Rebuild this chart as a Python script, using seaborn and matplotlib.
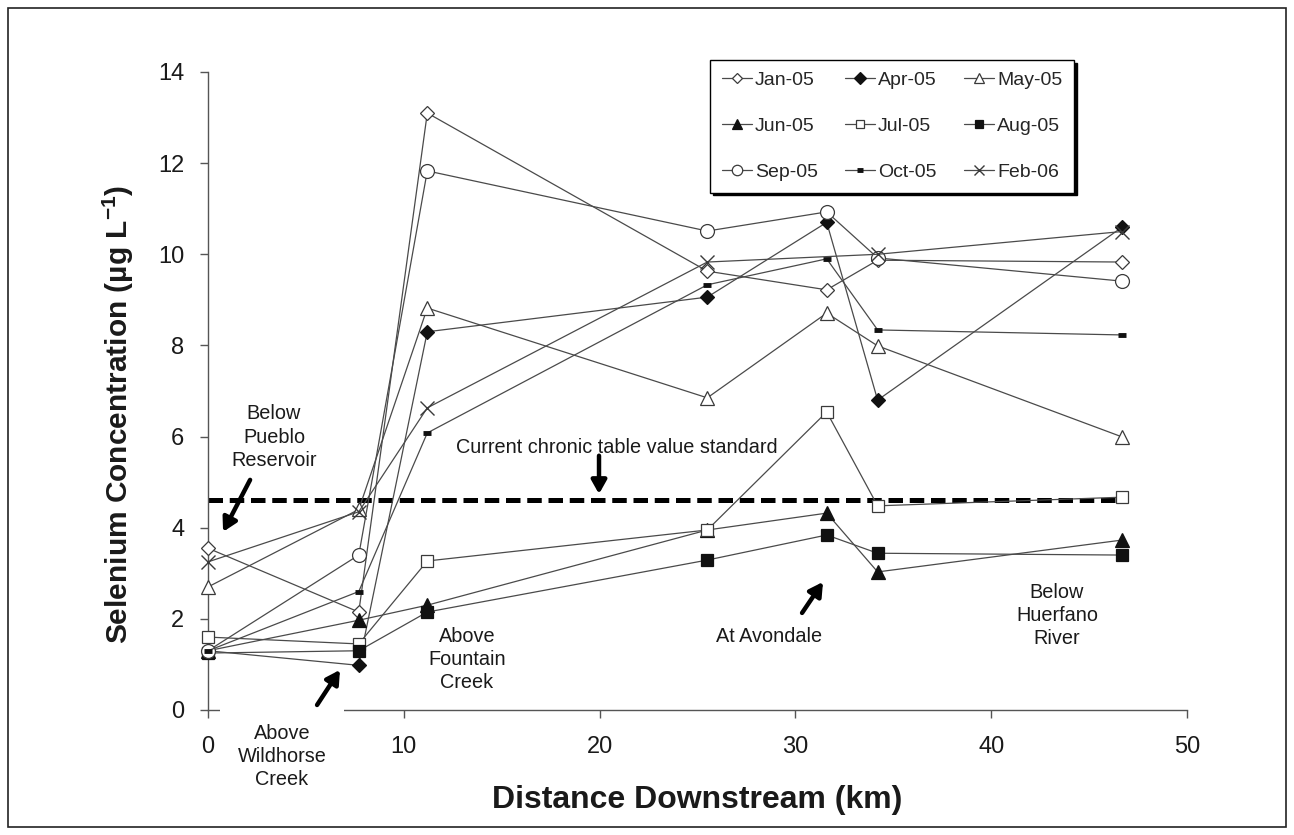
import numpy as np
import pandas as pd
import matplotlib
matplotlib.use("Agg")
import matplotlib.pyplot as plt
from matplotlib.patches import Rectangle
import seaborn as sns

# ---------------- data ----------------
distance_km = [0, 7.7, 11.2, 25.5, 31.6, 34.2, 46.7]
jan05 = [3.55, 2.15, 13.1, 9.63, 9.22, 9.87, 9.83]
apr05 = [1.30, 0.98, 8.30, 9.06, 10.7, 6.80, 10.6]
may05 = [2.70, 4.40, 8.82, 6.85, 8.71, 7.99, 5.99]
jun05 = [1.30, 1.97, 2.30, 3.95, 4.32, 3.03, 3.73]
jul05 = [1.60, 1.45, 3.27, 3.95, 6.54, 4.48, 4.67]
aug05 = [1.25, 1.30, 2.15, 3.29, 3.84, 3.44, 3.40]
sep05 = [1.30, 3.40, 11.83, 10.51, 10.93, 9.92, 9.41]
oct05 = [1.30, 2.60, 6.08, 9.33, 9.90, 8.34, 8.23]
feb06 = [3.25, 4.35, 6.63, 9.83, np.nan, 10.0, 10.5]

series_names = ["Jan-05", "Apr-05", "May-05", "Jun-05", "Jul-05",
                "Aug-05", "Sep-05", "Oct-05", "Feb-06"]
series_values = [jan05, apr05, may05, jun05, jul05, aug05, sep05, oct05, feb06]

standard_value = 4.6
standard_x = [0, 46.7]

x_ticks = [0, 10, 20, 30, 40, 50]
y_ticks = [0, 2, 4, 6, 8, 10, 12, 14]

# ---------------- style ----------------
sns.set_style("ticks")
plt.rcParams["font.family"] = ["Liberation Sans", "DejaVu Sans"]
plt.rcParams["mathtext.fontset"] = "custom"
plt.rcParams["mathtext.rm"] = "Liberation Sans"
plt.rcParams["mathtext.bf"] = "Liberation Sans:bold"

LINE = "#4a4a4a"
EDGE = "#3a3a3a"
FILL = "#111111"

marker_styles = {
    "Jan-05": dict(marker="D", markersize=7, markerfacecolor="white", markeredgecolor=EDGE, markeredgewidth=0.9),
    "Apr-05": dict(marker="D", markersize=7.5, markerfacecolor=FILL, markeredgecolor=FILL, markeredgewidth=0.9),
    "May-05": dict(marker="^", markersize=9.5, markerfacecolor="white", markeredgecolor=EDGE, markeredgewidth=0.9),
    "Jun-05": dict(marker="^", markersize=9.5, markerfacecolor=FILL, markeredgecolor=FILL, markeredgewidth=0.9),
    "Jul-05": dict(marker="s", markersize=8, markerfacecolor="white", markeredgecolor=EDGE, markeredgewidth=0.9),
    "Aug-05": dict(marker="s", markersize=8, markerfacecolor=FILL, markeredgecolor=FILL, markeredgewidth=0.9),
    "Sep-05": dict(marker="o", markersize=10, markerfacecolor="white", markeredgecolor=EDGE, markeredgewidth=0.9),
    "Oct-05": dict(marker="_", markersize=6, markerfacecolor=FILL, markeredgecolor=FILL, markeredgewidth=3.5),
    "Feb-06": dict(marker="x", markersize=10, markerfacecolor=EDGE, markeredgecolor=EDGE, markeredgewidth=1.0),
}

fig = plt.figure(figsize=(12.94, 8.35), dpi=100)
ax = fig.add_axes([208 / 1294, 1 - 710 / 835, (1187 - 208) / 1294, (710 - 72) / 835])

# standard line
ax.plot(standard_x, [standard_value, standard_value], color="black", lw=3.6,
        linestyle=(0, (2.9, 1.35)), dash_capstyle="butt", zorder=2, clip_on=False)

for name, vals in zip(series_names, series_values):
    df = pd.DataFrame({"x": distance_km, "y": vals}).dropna()
    sns.lineplot(data=df, x="x", y="y", ax=ax, color=LINE, linewidth=0.9,
                 label=name, estimator=None, sort=False, clip_on=False,
                 zorder=3, **marker_styles[name])

ax.set_xlim(0, 50)
ax.set_ylim(0, 14)
ax.set_xticks(x_ticks)
ax.set_yticks(y_ticks)
sns.despine(ax=ax)
for s in ["left", "bottom"]:
    ax.spines[s].set_color("#555555")
    ax.spines[s].set_linewidth(1.0)
ax.tick_params(axis="both", direction="out", length=6, width=1.0, color="#555555",
               labelsize=17, labelcolor="#1a1a1a")
ax.tick_params(axis="y", pad=11)
ax.tick_params(axis="x", pad=13)

ax.set_xlabel("Distance Downstream (km)", fontsize=23, fontweight="bold", color="#1a1a1a", va="center")
ax.xaxis.set_label_coords(0.4995, -(800 - 710) / 638)
ax.set_ylabel(r"Selenium Concentration (µg L$^{\mathbf{-1}}$)", fontsize=21.5,
              fontweight="bold", color="#1a1a1a", va="center")
ax.yaxis.set_label_coords((118 - 208) / 979, (710 - 414) / 638)

# legend (row-major order in reference -> reorder for column-major fill)
handles, labels = ax.get_legend_handles_labels()
order = [0, 3, 6, 1, 4, 7, 2, 5, 8]
leg = ax.legend([handles[i] for i in order], [labels[i] for i in order],
                ncol=3, loc="upper left", bbox_to_anchor=(710 / 1294, 1 - 60 / 835),
                bbox_transform=fig.transFigure, borderaxespad=0, fontsize=14,
                frameon=True, fancybox=False, edgecolor="black",
                shadow={"color": "black", "alpha": 1.0}, markerscale=0.75,
                handlelength=1.55, handletextpad=0.15, columnspacing=1.4,
                labelspacing=1.45, borderpad=0.6)
leg.get_frame().set_linewidth(1.0)
leg.get_frame().set_facecolor("white")

# annotations
TXT = dict(fontsize=14.3, color="#1a1a1a", ha="center", va="center", linespacing=1.27)
ARROW = dict(arrowstyle="-|>,head_length=0.8,head_width=0.45", color="black", lw=3.2,
             shrinkA=0, shrinkB=0)

ax.text(3.37, 5.99, "Below\nPueblo\nReservoir", **TXT)
ax.annotate("", xy=(0.77, 3.91), xytext=(2.15, 5.05), arrowprops=ARROW, annotation_clip=False)

ax.text(3.78, -1.03, "Above\nWildhorse\nCreek", clip_on=False,
        bbox=dict(boxstyle="square,pad=0.9", facecolor="white", edgecolor="none"), zorder=5, **TXT)
ax.annotate("", xy=(6.74, 0.88), xytext=(5.57, 0.11), arrowprops=ARROW, annotation_clip=False, zorder=6)

ax.text(20.9, 5.77, "Current chronic table value standard", **TXT)
ax.annotate("", xy=(19.97, 4.74), xytext=(19.97, 5.58), arrowprops=ARROW)

ax.text(13.23, 1.1, "Above\nFountain\nCreek",
        bbox=dict(boxstyle="square,pad=0.3", facecolor="white", edgecolor="none"), zorder=4, **TXT)

ax.text(28.65, 1.62, "At Avondale", **TXT)
ax.annotate("", xy=(31.41, 2.81), xytext=(30.34, 2.13), arrowprops=ARROW)

ax.text(43.36, 2.08, "Below\nHuerfano\nRiver", **TXT)

# figure border
fig.patches.append(Rectangle((8 / 1294, 8 / 835), (1286 - 8) / 1294, (827 - 8) / 835,
                             transform=fig.transFigure, fill=False, edgecolor="#222222",
                             linewidth=1.2))

fig.savefig("out.png", dpi=100, facecolor="white")
